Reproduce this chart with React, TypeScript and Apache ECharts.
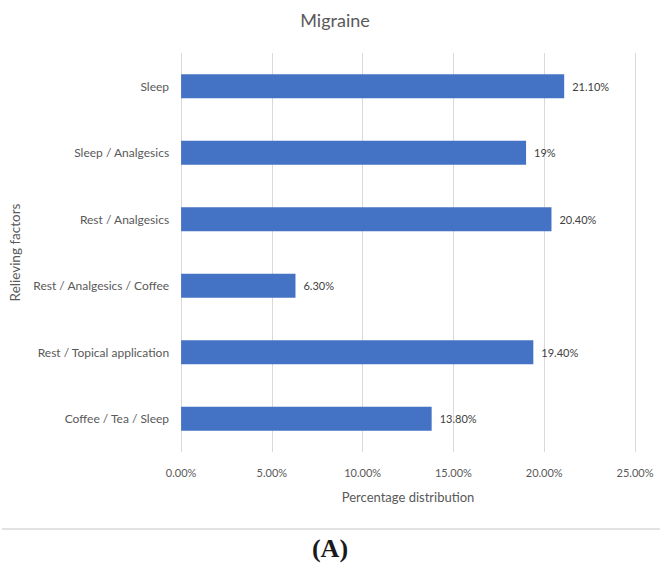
import React, { useEffect, useRef } from "react";
import * as echarts from "echarts";

const categories = [
  "Sleep",
  "Sleep / Analgesics",
  "Rest / Analgesics",
  "Rest / Analgesics / Coffee",
  "Rest / Topical application",
  "Coffee / Tea / Sleep",
];
const values = [21.1, 19, 20.4, 6.3, 19.4, 13.8];
const valueLabels = ["21.10%", "19%", "20.40%", "6.30%", "19.40%", "13.80%"];
const xTicks = [0, 5, 10, 15, 20, 25];

const FONT = "Lato, 'Open Sans', sans-serif";

export default function App() {
  const ref = useRef<HTMLDivElement>(null);

  useEffect(() => {
    document.body.style.margin = "0";
    if (!ref.current) return;
    const chart = echarts.init(ref.current, null, { renderer: "svg" });
    chart.setOption({
      animation: false,
      backgroundColor: "#ffffff",
      title: {
        text: "Migraine",
        left: "center",
        top: 6,
        textStyle: { fontFamily: FONT, fontSize: 18, fontWeight: "normal", color: "#595959" },
      },
      grid: { left: 172, right: 35, top: 53, bottom: 117, containLabel: false },
      xAxis: {
        type: "value",
        min: xTicks[0],
        max: xTicks[xTicks.length - 1],
        interval: 5,
        name: "Percentage distribution",
        nameLocation: "middle",
        nameGap: 38,
        nameTextStyle: { fontFamily: FONT, fontSize: 13, color: "#595959" },
        axisLine: { show: false },
        axisTick: { show: false },
        axisLabel: {
          margin: 15,
          fontFamily: FONT,
          fontSize: 11,
          color: "#595959",
          formatter: (v: number) => v.toFixed(2) + "%",
        },
        splitLine: { show: true, lineStyle: { color: "#d9d9d9", width: 1 } },
      },
      yAxis: {
        type: "category",
        data: categories,
        inverse: true,
        name: "Relieving factors",
        nameLocation: "middle",
        nameRotate: 90,
        nameGap: 140,
        nameTextStyle: { fontFamily: FONT, fontSize: 13.5, color: "#595959" },
        axisLine: { show: false },
        axisTick: { show: false },
        axisLabel: { margin: 12, fontFamily: FONT, fontSize: 12, color: "#595959" },
        splitLine: { show: false },
      },
      series: [
        {
          type: "bar",
          data: values,
          barWidth: 24,
          itemStyle: { color: "#4472C4" },
          label: {
            show: true,
            position: "right",
            distance: 8,
            fontFamily: FONT,
            fontSize: 11,
            color: "#404040",
            formatter: (p: any) => valueLabels[p.dataIndex],
          },
        },
      ],
      graphic: [
        {
          type: "line",
          shape: { x1: 2, y1: 529, x2: 660, y2: 529 },
          style: { stroke: "#d9d9d9", lineWidth: 1.5 },
        },
        {
          type: "text",
          x: 330,
          y: 548,
          style: {
            text: "(A)",
            font: "bold 26px 'Liberation Serif', 'Times New Roman', serif",
            fill: "#1a1a1a",
            textAlign: "center",
            textVerticalAlign: "middle",
          },
        },
      ],
    });
    return () => chart.dispose();
  }, []);

  return <div ref={ref} style={{ width: 670, height: 569 }} />;
}
